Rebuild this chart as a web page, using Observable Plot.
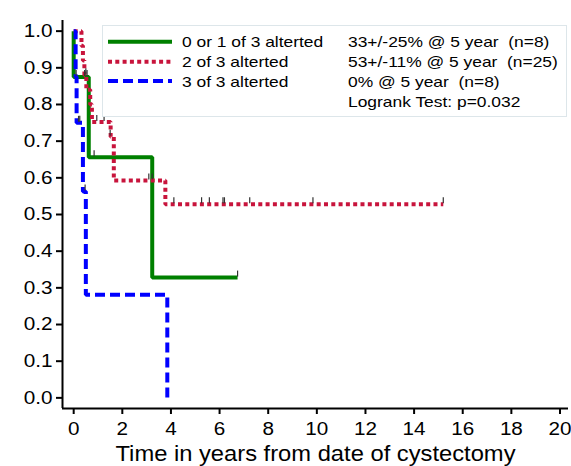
<!DOCTYPE html>
<html><head><meta charset="utf-8">
<script src="https://cdn.jsdelivr.net/npm/d3@7"></script>
<script src="https://cdn.jsdelivr.net/npm/@observablehq/plot@0.6"></script>
<style>
body{margin:0;background:#fff;}
#wrap{position:relative;width:571px;height:466px;font-family:"Liberation Sans",Arial,sans-serif;}
#legend{position:absolute;left:102px;top:25px;}
svg text{white-space:pre;}
#wrap svg g[aria-label^="x-axis"] line, #wrap svg g[aria-label^="x-axis"] path,
#wrap svg g[aria-label^="y-axis"] line, #wrap svg g[aria-label^="y-axis"] path{stroke-width:2px;stroke:#000;}
</style></head><body><div id="wrap"></div>
<script>
// ---- data ----
const groups = ["0 or 1 of 3 alterted", "2 of 3 alterted", "3 of 3 alterted"];
const stats = ["33+/-25% @ 5 year  (n=8)", "53+/-11% @ 5 year  (n=25)", "0% @ 5 year  (n=8)", "Logrank Test: p=0.032"];
const xLabel = "Time in years from date of cystectomy";
const xTicks = [0, 2, 4, 6, 8, 10, 12, 14, 16, 18, 20];
const yTicks = [0, 0.1, 0.2, 0.3, 0.4, 0.5, 0.6, 0.7, 0.8, 0.9, 1.0];

// Kaplan-Meier step points (time, survival)
const greenTime = [0, 0, 0.62, 3.23, 6.74];
const greenSurv = [1, 0.875, 0.656, 0.328, 0.328];
const redTime = [0, 0.32, 0.38, 0.44, 0.52, 0.68, 0.75, 1.52, 1.65, 3.77, 15.2];
const redSurv = [1, 0.96, 0.92, 0.88, 0.84, 0.80, 0.752, 0.712, 0.593, 0.528, 0.528];
const blueTime = [0, 0.08, 0.12, 0.38, 0.5, 3.85];
const blueSurv = [1, 0.875, 0.75, 0.5625, 0.281, 0];

// censored observations
const greenCensTime = [0.45, 0.55, 0.84, 6.74];
const greenCensSurv = [0.875, 0.875, 0.656, 0.328];
const redCensTime = [0.5, 0.95, 1.25, 1.5, 3.09, 3.23, 4.12, 5.26, 5.58, 6.14, 6.2, 7.24, 9.84, 15.2];
const redCensSurv = [0.88, 0.752, 0.752, 0.712, 0.593, 0.593, 0.528, 0.528, 0.528, 0.528, 0.528, 0.528, 0.528, 0.528];
const blueCensTime = [0.1, 0.2, 0.25, 0.47];
const blueCensSurv = [0.875, 0.75, 0.75, 0.5625];

const colors = ["#008000", "#c8143c", "#0000ff"];
const dashes = ["none", "4,3.3", "10,5"];

// ---- build tables ----
const curveT = [greenTime, redTime, blueTime];
const curveS = [greenSurv, redSurv, blueSurv];
const censT = [greenCensTime, redCensTime, blueCensTime];
const censS = [greenCensSurv, redCensSurv, blueCensSurv];
const curves = groups.map((g, i) => curveT[i].map((t, j) => ({group: g, t, s: curveS[i][j]})));
const cens = groups.flatMap((g, i) => censT[i].map((t, j) => ({group: g, t, s: censS[i][j]})));

const censorSymbol = {draw(ctx) { ctx.moveTo(0, -7); ctx.lineTo(0, -1); }};

const xDomain = [-0.46, 20.35];
const yDomain = [-0.029, 1.029];

const chart = Plot.plot({
  width: 571, height: 466,
  marginLeft: 62, marginRight: 3, marginTop: 20, marginBottom: 58,
  style: {fontFamily: '"Liberation Sans", Arial, sans-serif', fontSize: "18px", color: "#000", background: "#fff", overflow: "visible"},
  x: {domain: xDomain, ticks: xTicks, tickSize: 6, tickPadding: 8, label: null, tickFormat: d3.format("d")},
  y: {domain: yDomain, ticks: yTicks, tickSize: 6, tickPadding: 4, label: null, tickFormat: d3.format(".1f")},
  marks: [
    Plot.ruleX([xDomain[0]], {stroke: "#000", strokeWidth: 2}),
    Plot.ruleY([yDomain[0]], {stroke: "#000", strokeWidth: 2}),
    ...curves.map((c, i) => Plot.line(c, {x: "t", y: "s", curve: "step-after", stroke: colors[i], strokeWidth: 4, strokeDasharray: dashes[i], strokeLinejoin: "miter", strokeLinecap: "butt"})),
    Plot.dot(cens, {x: "t", y: "s", symbol: censorSymbol, fill: "none", stroke: "#333", strokeWidth: 1.2, r: 3}),
    Plot.text([xLabel], {text: d => d, frameAnchor: "bottom", dy: 45, fontSize: 22, lineAnchor: "middle", fill: "#000"})
  ]
});
const wrap = document.getElementById("wrap");
wrap.appendChild(chart);

// horizontally widen tick labels and title to match the reference's wide lettering
function widen(el, k) {
  const w = el.getComputedTextLength();
  if (w > 0) { el.setAttribute("textLength", (w * k).toFixed(1)); el.setAttribute("lengthAdjust", "spacingAndGlyphs"); }
}
d3.select(chart).selectAll('g[aria-label*="axis"] text').each(function() { widen(this, 1.15); });
d3.select(chart).selectAll("text").filter(function() { return this.textContent === xLabel; })
  .each(function() { this.setAttribute("textLength", 400); this.setAttribute("lengthAdjust", "spacingAndGlyphs"); });

// ---- legend (inside plot area, top right) ----
const lw = 465, lh = 92;
const leg = d3.select(wrap).append("svg").attr("id", "legend").attr("width", lw).attr("height", lh)
  .style("font-family", '"Liberation Sans", Arial, sans-serif').style("font-size", "15px");
leg.append("rect").attr("x", 0.5).attr("y", 0.5).attr("width", lw - 1).attr("height", lh - 1)
  .attr("fill", "#fff").attr("stroke", "#dde6ea");
const rowY = [16.7, 36.7, 56];
groups.forEach((g, i) => {
  leg.append("line").attr("x1", 6).attr("x2", 70).attr("y1", rowY[i]).attr("y2", rowY[i])
    .attr("stroke", colors[i]).attr("stroke-width", 4).attr("stroke-dasharray", dashes[i]);
  leg.append("text").attr("x", 80).attr("y", rowY[i] + 5.5).text(g);
});
const statY = [22.3, 42.3, 61.6, 81.6];
stats.forEach((s, i) => leg.append("text").attr("x", 246).attr("y", statY[i]).text(s));
leg.selectAll("text").each(function() { widen(this, 1.16); });
</script></body></html>
